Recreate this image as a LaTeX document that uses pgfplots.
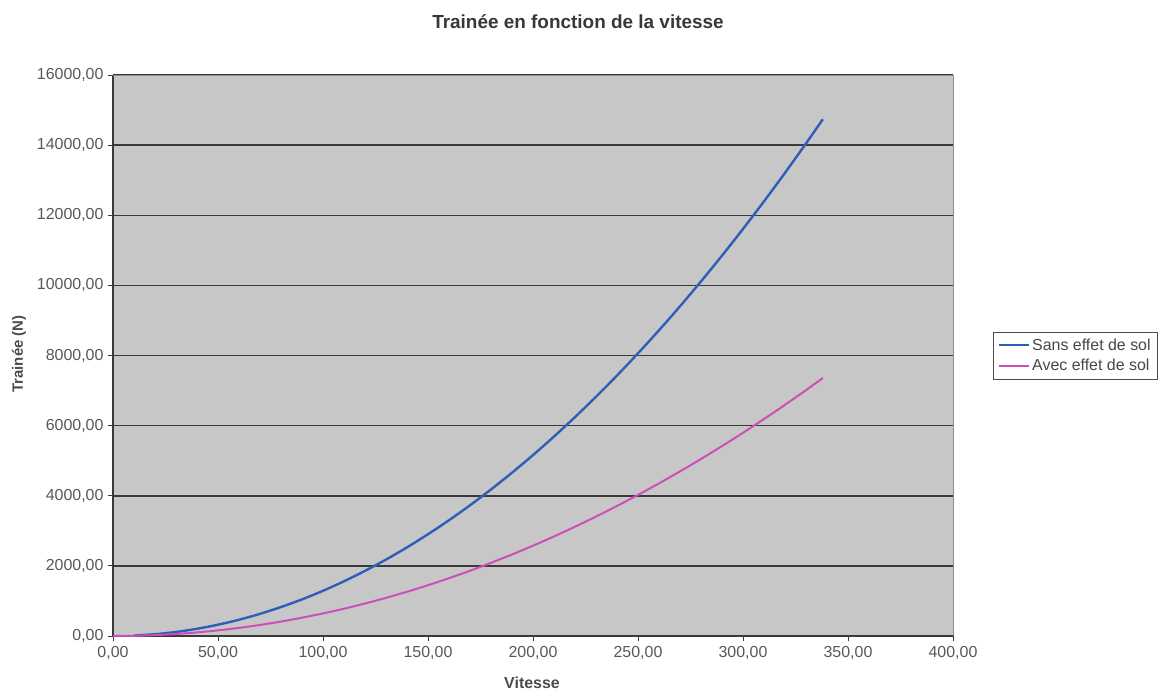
\documentclass[border=0pt]{standalone}
\usepackage{pgfplots}
\pgfplotsset{compat=1.18}
\usepackage{fontspec}
\setmainfont{Liberation Sans}
\definecolor{bgray}{HTML}{C8C7C8}
\definecolor{gridc}{HTML}{3A3A3A}
\definecolor{tickc}{HTML}{585858}
\definecolor{blueS}{HTML}{2E5EB8}
\definecolor{pinkA}{HTML}{CC4FB8}
\begin{document}
\begin{tikzpicture}[x=1bp,y=1bp]
\path[use as bounding box] (0,0) rectangle (1164,-696);
\begin{axis}[
  at={(113bp,-636bp)}, anchor=south west,
  scale only axis, width=840bp, height=561bp,
  xmin=0, xmax=400, ymin=0, ymax=16000,
  xtick={0,50,...,400}, ytick={0,2000,...,16000},
  scaled y ticks=false, scaled x ticks=false,
  axis background/.style={fill=bgray},
  ymajorgrids, grid style={gridc, line width=1.5bp},
  axis x line*=bottom, axis y line*=left,
  axis line style={gridc, line width=1.5bp},
  tick style={gridc, line width=1bp},
  tick align=outside, major tick length=5bp,
  ticklabel style={font=\fontsize{16}{18}\selectfont, text=tickc},
  yticklabel style={xshift=-1bp},
  xticklabel style={yshift=-2bp},
  /pgf/number format/.cd, fixed, fixed zerofill, precision=2, use comma, 1000 sep={}, assume math mode=true,
  /pgfplots/.cd,
  legend style={at={(axis description cs:1.0476,0.5)}, anchor=west,
    draw=black!70, fill=white, font=\fontsize{16}{18}\selectfont,
    inner xsep=5bp, inner ysep=5bp, row sep=3bp,
    /tikz/every even column/.append style={column sep=0bp}},
  legend cell align=left,
  clip=false,
]
\draw[black!45, line width=0.8bp] (axis cs:0,16000) -- (axis cs:400,16000) -- (axis cs:400,0);
\addlegendimage{legend image code/.code={\draw[draw=blueS, line width=2bp] (0bp,0bp) -- (30bp,0bp);}}
\addlegendentry{\textcolor{black!72}{Sans effet de sol}}
\addlegendimage{legend image code/.code={\draw[draw=pinkA, line width=2bp] (0bp,0bp) -- (30bp,0bp);}}
\addlegendentry{\textcolor{black!72}{Avec effet de sol}}
\addplot[blueS, line width=2.4bp, smooth, forget plot] coordinates {
(10,12.9)(20,51.6)(30,116)(40,206)(50,323)(60,464)(70,632)(80,826)(90,1045)(100,1290)
(110,1561)(120,1858)(130,2180)(140,2528)(150,2903)(160,3302)(170,3728)(180,4180)(190,4657)(200,5160)
(210,5689)(220,6244)(230,6824)(240,7430)(250,8063)(260,8720)(270,9404)(280,10114)(290,10849)(300,11610)
(310,12397)(320,13210)(330,14048)(338,14737)};
\addplot[pinkA, line width=2bp, smooth, forget plot] coordinates {
(0,0)(10,6.4)(20,25.8)(30,58)(40,103)(50,161)(60,232)(70,316)(80,412)(90,522)(100,644)
(110,779)(120,927)(130,1088)(140,1262)(150,1449)(160,1649)(170,1861)(180,2087)(190,2325)(200,2576)
(210,2840)(220,3117)(230,3407)(240,3709)(250,4025)(260,4353)(270,4695)(280,5049)(290,5416)(300,5796)
(310,6189)(320,6595)(330,7013)(338,7357)};
\end{axis}
\node[font=\bfseries\fontsize{19}{22}\selectfont, text=black!78] at (578,-22) {Trainée en fonction de la vitesse};
\node[font=\bfseries\fontsize{16}{18}\selectfont, text=black!70] at (532,-683) {Vitesse};
\node[font=\bfseries\fontsize{15}{18}\selectfont, text=black!70, rotate=90] at (19,-354) {Trainée (N)};
\end{tikzpicture}
\end{document}
